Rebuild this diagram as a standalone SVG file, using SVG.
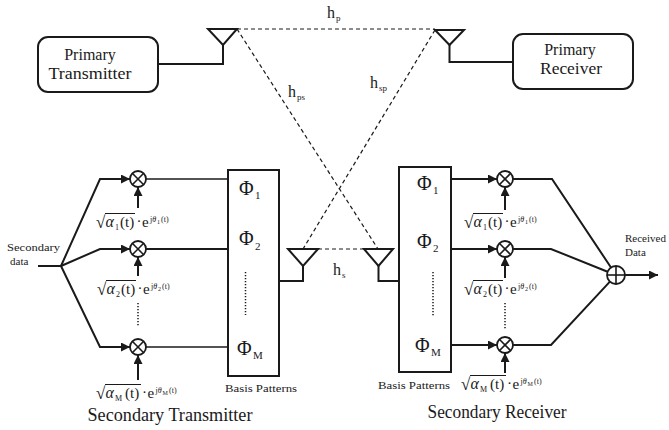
<svg xmlns="http://www.w3.org/2000/svg" width="669" height="430" viewBox="0 0 669 430">
<style>
text{font-family:"Liberation Serif","Times New Roman",serif;fill:#1a1a1a}
.box{fill:#fff;stroke:#1a1a1a;stroke-width:2}
.thick{fill:none;stroke:#1a1a1a;stroke-width:2}
.thin{fill:none;stroke:#1a1a1a;stroke-width:1.3}
.dash{fill:none;stroke:#1a1a1a;stroke-width:1.2;stroke-dasharray:4 3}
.dots{fill:none;stroke:#1a1a1a;stroke-width:1.5;stroke-dasharray:1.2 1.8}
.ant{fill:#fff;stroke:#1a1a1a;stroke-width:2;stroke-linejoin:miter}
.mul{fill:#fff;stroke:#1a1a1a;stroke-width:1.8}
.bar{stroke:#1a1a1a;stroke-width:1}
.lbl{font-size:16px}
.small{font-size:11px}
.phi{font-size:20px}
.phisub{font-size:11px}
.h{font-size:16px}
.hs{font-size:9px}
.rad{font-size:17px}
.f{font-size:15px}
.fi{font-size:16px;font-style:italic}
.fs{font-size:8px}
.sp{font-size:8px}
.sp2{font-size:6px}
.title{font-size:18px}
</style>
<defs>
<marker id="arr" viewBox="0 0 10 10" refX="10" refY="5" markerWidth="9" markerHeight="9" markerUnits="userSpaceOnUse" orient="auto">
<path d="M0,0 L10,5 L0,10 z" fill="#1a1a1a"/>
</marker>
<g id="mulsym">
<circle cx="0" cy="0" r="8" class="mul"/>
<line x1="-5.7" y1="-5.7" x2="5.7" y2="5.7" stroke="#1a1a1a" stroke-width="1.6"/>
<line x1="-5.7" y1="5.7" x2="5.7" y2="-5.7" stroke="#1a1a1a" stroke-width="1.6"/>
</g>
</defs>

<!-- Primary transmitter -->
<g id="primary-transmitter">
<rect x="38" y="37" width="120" height="55" rx="10" class="box"/>
<text x="90" y="60" text-anchor="middle" class="lbl">Primary</text>
<text x="90" y="79" text-anchor="middle" class="lbl" textLength="83" lengthAdjust="spacingAndGlyphs">Transmitter</text>
</g>
<g id="primary-tx-antenna">
<polyline points="158,64 223,64 223,45" class="thick"/>
<polygon points="208,29 237,29 223,45" class="ant"/>
</g>

<!-- Primary receiver -->
<g id="primary-receiver">
<rect x="513" y="34" width="120" height="55" rx="10" class="box"/>
<text x="570" y="55" text-anchor="middle" class="lbl">Primary</text>
<text x="571" y="74" text-anchor="middle" class="lbl" textLength="62" lengthAdjust="spacingAndGlyphs">Receiver</text>
</g>
<g id="primary-rx-antenna">
<polyline points="513,62 449.5,62 449.5,45" class="thick"/>
<polygon points="435,30 464,30 449.5,45" class="ant"/>
</g>

<!-- Secondary antennas -->
<g id="secondary-tx-antenna">
<polyline points="279,281 303,281 303,266" class="thick"/>
<polygon points="288,249 318,249 303,266" class="ant"/>
</g>
<g id="secondary-rx-antenna">
<polyline points="399,281 378.5,281 378.5,266" class="thick"/>
<polygon points="364,249 393,249 378.5,266" class="ant"/>
</g>

<!-- Channels -->
<g id="channels">
<line x1="237" y1="29" x2="435" y2="29" class="dash"/>
<line x1="237" y1="29" x2="378" y2="249" class="dash"/>
<line x1="435" y1="30" x2="303" y2="249" class="dash"/>
<line x1="318" y1="249" x2="364" y2="249" class="dash"/>
<text x="327" y="18" class="h">h</text><text x="336" y="21" class="hs">p</text>
<text x="288" y="97" class="h">h</text><text x="297" y="100" class="hs">ps</text>
<text x="370" y="88" class="h">h</text><text x="379" y="91" class="hs">sp</text>
<text x="333" y="275" class="h">h</text><text x="342" y="278" class="hs">s</text>
</g>

<!-- Secondary transmitter basis block -->
<g id="tx-basis">
<rect x="228" y="170" width="51" height="206" class="box"/>
<text x="239" y="195" class="phi">Φ</text><text x="255" y="199" class="phisub">1</text>
<text x="239" y="245" class="phi">Φ</text><text x="255" y="250" class="phisub">2</text>
<line x1="245.5" y1="272" x2="245.5" y2="315" class="dots"/>
<text x="237" y="355" class="phi">Φ</text><text x="253" y="359" class="phisub">M</text>
<text x="261" y="392" text-anchor="middle" class="small" textLength="72" lengthAdjust="spacingAndGlyphs">Basis Patterns</text>
</g>

<!-- Secondary receiver basis block -->
<g id="rx-basis">
<rect x="399" y="167" width="52" height="205" class="box"/>
<text x="417" y="190" class="phi">Φ</text><text x="433" y="194" class="phisub">1</text>
<text x="417" y="248" class="phi">Φ</text><text x="433" y="252" class="phisub">2</text>
<line x1="433" y1="272" x2="433" y2="316" class="dots"/>
<text x="415" y="352" class="phi">Φ</text><text x="431" y="356" class="phisub">M</text>
<text x="414" y="389" text-anchor="middle" class="small" textLength="72" lengthAdjust="spacingAndGlyphs">Basis Patterns</text>
</g>

<!-- TX multipliers -->
<g id="tx-mult-1"><use href="#mulsym" x="138" y="179"/></g>
<g id="tx-mult-2"><use href="#mulsym" x="138" y="249"/></g>
<g id="tx-mult-M"><use href="#mulsym" x="138" y="347"/></g>
<!-- RX multipliers -->
<g id="rx-mult-1"><use href="#mulsym" x="505" y="179"/></g>
<g id="rx-mult-2"><use href="#mulsym" x="505" y="249"/></g>
<g id="rx-mult-M"><use href="#mulsym" x="505" y="345"/></g>
<!-- Summer -->
<g id="summer">
<circle cx="616" cy="275" r="9" class="mul"/>
<line x1="607" y1="275" x2="625" y2="275" stroke="#1a1a1a" stroke-width="1.6"/>
<line x1="616" y1="266" x2="616" y2="284" stroke="#1a1a1a" stroke-width="1.6"/>
</g>

<!-- Connectors -->
<g id="connectors">
<line x1="38" y1="266" x2="61" y2="266" class="thick"/>
<polyline points="61,266 100,179 130,179" class="thick" marker-end="url(#arr)"/>
<polyline points="61,266 100,249 130,249" class="thick" marker-end="url(#arr)"/>
<polyline points="61,266 100,347 130,347" class="thick" marker-end="url(#arr)"/>
<line x1="138" y1="208" x2="138" y2="187" class="thick" marker-end="url(#arr)"/>
<line x1="138" y1="276" x2="138" y2="257" class="thick" marker-end="url(#arr)"/>
<line x1="138" y1="380" x2="138" y2="355" class="thick" marker-end="url(#arr)"/>
<line x1="146" y1="179" x2="228" y2="179" class="thin"/>
<line x1="146" y1="249" x2="228" y2="249" class="thick"/>
<line x1="146" y1="347" x2="228" y2="347" class="thin"/>
<line x1="138" y1="303" x2="138" y2="327" class="dots"/>

<line x1="451" y1="179" x2="497" y2="179" class="thick" marker-end="url(#arr)"/>
<line x1="451" y1="249" x2="497" y2="249" class="thick" marker-end="url(#arr)"/>
<line x1="451" y1="345" x2="497" y2="345" class="thick" marker-end="url(#arr)"/>
<line x1="505" y1="210" x2="505" y2="187" class="thick" marker-end="url(#arr)"/>
<line x1="505" y1="278" x2="505" y2="257" class="thick" marker-end="url(#arr)"/>
<line x1="505" y1="373" x2="505" y2="353" class="thick" marker-end="url(#arr)"/>
<line x1="505" y1="303" x2="505" y2="329" class="dots"/>
<polyline points="513,179 552,179 611,267.5" class="thick"/>
<polyline points="513,249 551,249 607.6,271.7" class="thick"/>
<polyline points="513,345 551,345 609.9,281.6" class="thick"/>
<line x1="625" y1="275" x2="658" y2="275" class="thick" marker-end="url(#arr)"/>
</g>

<!-- Side labels -->
<g id="secondary-data-label">
<text x="7" y="251" class="small" textLength="53" lengthAdjust="spacingAndGlyphs">Secondary</text>
<text x="10" y="265" class="small">data</text>
</g>
<g id="received-data-label">
<text x="625" y="242" class="small">Received</text>
<text x="625" y="256" class="small">Data</text>
</g>

<!-- Coefficient labels -->
<g id="coef-tx-1" transform="translate(96,227)">
<text x="0" y="1" class="rad">√</text><line x1="9" y1="-13.5" x2="39" y2="-13.5" class="bar"/>
<text x="9.5" y="0" class="fi">α</text><text x="19" y="2.5" class="fs">1</text><text x="24" y="0" class="f">(t)</text>
<text x="40.5" y="-1" class="f">·</text><text x="46" y="0" class="f">e</text>
<text x="54" y="-5" class="sp">j<tspan font-style="italic">θ</tspan></text><text x="61" y="-3.5" class="sp2">1</text><text x="65" y="-5" class="sp">(t)</text>
</g>
<g id="coef-tx-2" transform="translate(97,294)">
<text x="0" y="1" class="rad">√</text><line x1="9" y1="-13.5" x2="39" y2="-13.5" class="bar"/>
<text x="9.5" y="0" class="fi">α</text><text x="19" y="2.5" class="fs">2</text><text x="24" y="0" class="f">(t)</text>
<text x="40.5" y="-1" class="f">·</text><text x="46" y="0" class="f">e</text>
<text x="54" y="-5" class="sp">j<tspan font-style="italic">θ</tspan></text><text x="61" y="-3.5" class="sp2">2</text><text x="65" y="-5" class="sp">(t)</text>
</g>
<g id="coef-tx-M" transform="translate(96,398)">
<text x="0" y="1" class="rad">√</text><line x1="9" y1="-13.5" x2="45" y2="-13.5" class="bar"/>
<text x="9.5" y="0" class="fi">α</text><text x="19" y="2.5" class="fs">M</text><text x="29" y="0" class="f">(t)</text>
<text x="46" y="-1" class="f">·</text><text x="51.5" y="0" class="f">e</text>
<text x="59.5" y="-5" class="sp">j<tspan font-style="italic">θ</tspan></text><text x="66.5" y="-3.5" class="sp2">M</text><text x="73" y="-5" class="sp">(t)</text>
</g>
<g id="coef-rx-1" transform="translate(464,227)">
<text x="0" y="1" class="rad">√</text><line x1="9" y1="-13.5" x2="39" y2="-13.5" class="bar"/>
<text x="9.5" y="0" class="fi">α</text><text x="19" y="2.5" class="fs">1</text><text x="24" y="0" class="f">(t)</text>
<text x="40.5" y="-1" class="f">·</text><text x="46" y="0" class="f">e</text>
<text x="54" y="-5" class="sp">j<tspan font-style="italic">θ</tspan></text><text x="61" y="-3.5" class="sp2">1</text><text x="65" y="-5" class="sp">(t)</text>
</g>
<g id="coef-rx-2" transform="translate(464,294)">
<text x="0" y="1" class="rad">√</text><line x1="9" y1="-13.5" x2="39" y2="-13.5" class="bar"/>
<text x="9.5" y="0" class="fi">α</text><text x="19" y="2.5" class="fs">2</text><text x="24" y="0" class="f">(t)</text>
<text x="40.5" y="-1" class="f">·</text><text x="46" y="0" class="f">e</text>
<text x="54" y="-5" class="sp">j<tspan font-style="italic">θ</tspan></text><text x="61" y="-3.5" class="sp2">2</text><text x="65" y="-5" class="sp">(t)</text>
</g>
<g id="coef-rx-M" transform="translate(461,389)">
<text x="0" y="1" class="rad">√</text><line x1="9" y1="-13.5" x2="45" y2="-13.5" class="bar"/>
<text x="9.5" y="0" class="fi">α</text><text x="19" y="2.5" class="fs">M</text><text x="29" y="0" class="f">(t)</text>
<text x="46" y="-1" class="f">·</text><text x="51.5" y="0" class="f">e</text>
<text x="59.5" y="-5" class="sp">j<tspan font-style="italic">θ</tspan></text><text x="66.5" y="-3.5" class="sp2">M</text><text x="73" y="-5" class="sp">(t)</text>
</g>

<!-- Titles -->
<text x="170" y="421" text-anchor="middle" class="title" textLength="165" lengthAdjust="spacingAndGlyphs">Secondary Transmitter</text>
<text x="497" y="418" text-anchor="middle" class="title" textLength="139" lengthAdjust="spacingAndGlyphs">Secondary Receiver</text>
</svg>
